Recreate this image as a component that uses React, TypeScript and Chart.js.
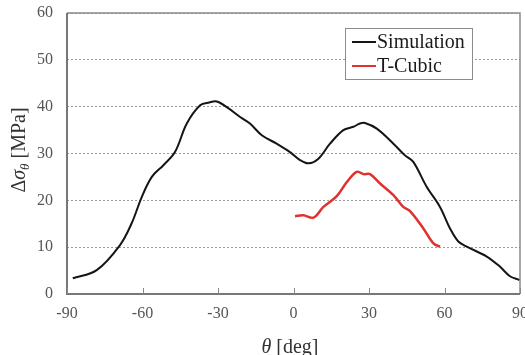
import React, { useEffect, useRef } from "react";
import { Chart, registerables } from "chart.js";

Chart.register(...registerables);

// Hoop stress amplitude vs. angle
const simTheta = [-87.7, -78.2, -69, -64.3, -60.3, -56.3, -51.7, -47.1, -42.4, -37.1, -33.5, -30.5, -26.5, -21.2, -17.3, -12.6, -6.7, -1.4, 2.6, 5.9, 9.9, 14.5, 19.8, 23.8, 26.4, 28.4, 33.1, 39.7, 44.3, 47.6, 52.9, 58.2, 62.2, 65.5, 68.8, 76.8, 82.1, 86, 89.7];
const simValues = [3.35, 5.1, 10.4, 15.1, 20.7, 25, 27.5, 30.3, 36.4, 40.3, 40.9, 41.1, 39.9, 37.8, 36.4, 33.9, 32.1, 30.3, 28.6, 27.9, 28.9, 32.1, 35, 35.7, 36.4, 36.5, 35.3, 32.1, 29.6, 28.2, 22.9, 18.6, 14.0, 11.2, 10.1, 8.0, 5.8, 3.8, 3.0];

const tcTheta = [0.6, 3.9, 7.9, 11.9, 17.2, 21.2, 25.1, 27.8, 30.4, 34.4, 39.7, 43.6, 46.3, 51.6, 55.6, 58.2];
const tcValues = [16.6, 16.8, 16.3, 18.6, 20.9, 23.9, 26.1, 25.6, 25.6, 23.6, 21.1, 18.6, 17.7, 14.0, 10.8, 10.1];

const seriesLabels = ["Simulation", "T-Cubic"];
const seriesColors = ["#151515", "#e0312e"];

const xTicks = [-90, -60, -30, 0, 30, 60, 90];
const yTicks = [0, 10, 20, 30, 40, 50, 60];

const SERIF = '"Liberation Serif", "Times New Roman", serif';

const toPoints = (xs: number[], ys: number[]) => xs.map((x, i) => ({ x, y: ys[i] }));

const decorPlugin = {
  id: "decor",
  beforeDatasetsDraw(chart: any) {
    const { ctx, chartArea: a, scales } = chart;
    ctx.save();
    // frame
    ctx.strokeStyle = "#8a8a8a";
    ctx.lineWidth = 1.5;
    ctx.beginPath();
    ctx.moveTo(a.left, a.top);
    ctx.lineTo(a.right, a.top);
    ctx.lineTo(a.right, a.bottom);
    ctx.stroke();
    ctx.strokeStyle = "#777";
    ctx.lineWidth = 2;
    ctx.beginPath();
    ctx.moveTo(a.left, a.top);
    ctx.lineTo(a.left, a.bottom);
    ctx.lineTo(a.right, a.bottom);
    ctx.stroke();
    // inner tick marks on the x axis
    ctx.lineWidth = 1;
    ctx.strokeStyle = "#888";
    xTicks.forEach((v) => {
      const px = Math.round(scales.x.getPixelForValue(v)) + 0.5;
      ctx.beginPath();
      ctx.moveTo(px, a.bottom);
      ctx.lineTo(px, a.bottom - 6);
      ctx.stroke();
    });
    ctx.restore();
  },
  afterDraw(chart: any) {
    const { ctx } = chart;
    ctx.save();
    ctx.fillStyle = "#333";
    ctx.textBaseline = "alphabetic";

    // x axis title: θ [deg]
    const xParts = [
      { t: "\u03b8", f: `italic 20px ${SERIF}` },
      { t: " [deg]", f: `20px ${SERIF}` },
    ];
    let w = 0;
    xParts.forEach((p) => { ctx.font = p.f; w += ctx.measureText(p.t).width; });
    let cx = 290 - w / 2;
    xParts.forEach((p) => { ctx.font = p.f; ctx.fillText(p.t, cx, 353); cx += ctx.measureText(p.t).width; });

    // y axis title: Δσθ [MPa]
    const yParts = [
      { t: "\u0394", f: `20px ${SERIF}`, dy: 0 },
      { t: "\u03c3", f: `italic 20px ${SERIF}`, dy: 0 },
      { t: "\u03b8", f: `italic 13px ${SERIF}`, dy: 4 },
      { t: " [MPa]", f: `20px ${SERIF}`, dy: 0 },
    ];
    w = 0;
    yParts.forEach((p) => { ctx.font = p.f; w += ctx.measureText(p.t).width; });
    ctx.translate(25, 150);
    ctx.rotate(-Math.PI / 2);
    cx = -w / 2;
    yParts.forEach((p) => { ctx.font = p.f; ctx.fillText(p.t, cx, p.dy); cx += ctx.measureText(p.t).width; });
    ctx.restore();

    // legend
    ctx.save();
    ctx.fillStyle = "#fff";
    ctx.fillRect(345.5, 28.5, 127, 51);
    ctx.strokeStyle = "#8c8c8c";
    ctx.lineWidth = 1;
    ctx.strokeRect(345.5, 28.5, 127, 51);
    ctx.font = `20px ${SERIF}`;
    ctx.textBaseline = "middle";
    seriesLabels.forEach((lab, i) => {
      const y = 42 + i * 24;
      ctx.strokeStyle = seriesColors[i];
      ctx.lineWidth = 2;
      ctx.beginPath();
      ctx.moveTo(352, y);
      ctx.lineTo(376, y);
      ctx.stroke();
      ctx.fillStyle = "#1a1a1a";
      ctx.fillText(lab, 377, y + 1);
    });
    ctx.restore();
  },
};

export default function App() {
  const ref = useRef<HTMLCanvasElement>(null);

  useEffect(() => {
    document.body.style.margin = "0";
    const chart = new Chart(ref.current as HTMLCanvasElement, {
      type: "scatter",
      data: {
        datasets: [
          {
            label: seriesLabels[0],
            data: toPoints(simTheta, simValues),
            showLine: true,
            borderColor: seriesColors[0],
            borderWidth: 2,
            pointRadius: 0,
            tension: 0.35,
          },
          {
            label: seriesLabels[1],
            data: toPoints(tcTheta, tcValues),
            showLine: true,
            borderColor: seriesColors[1],
            borderWidth: 2.5,
            pointRadius: 0,
            tension: 0.35,
          },
        ],
      },
      options: {
        animation: false,
        responsive: false,
        layout: { padding: { top: 13, right: 5, left: 0, bottom: 0 } },
        plugins: { legend: { display: false }, tooltip: { enabled: false } },
        scales: {
          x: {
            type: "linear",
            min: -90,
            max: 90,
            afterBuildTicks: (s: any) => { s.ticks = xTicks.map((v) => ({ value: v })); },
            afterFit: (s: any) => {
              s.height = 61;
              s.paddingLeft = 0; s.paddingRight = 0; s.paddingTop = 0; s.paddingBottom = 0;
            },
            grid: { display: false, drawTicks: false },
            border: { display: false },
            ticks: { padding: 10, color: "#555", font: { family: SERIF, size: 16 }, maxRotation: 0 },
          },
          y: {
            min: 0,
            max: 60,
            afterBuildTicks: (s: any) => { s.ticks = yTicks.map((v) => ({ value: v })); },
            afterFit: (s: any) => {
              s.width = 67;
              s.paddingLeft = 0; s.paddingRight = 0; s.paddingTop = 0; s.paddingBottom = 0;
            },
            grid: { color: "#9a9a9a", lineWidth: 1, drawTicks: false },
            border: { display: false, dash: [2, 2] },
            ticks: { padding: 14, color: "#555", font: { family: SERIF, size: 16 } },
          },
        },
      },
      plugins: [decorPlugin],
    } as any);
    return () => chart.destroy();
  }, []);

  return (
    <div style={{ position: "absolute", left: 0, top: 0, width: 525, height: 355 }}>
      <canvas ref={ref} width={525} height={355} style={{ width: 525, height: 355 }} />
    </div>
  );
}
